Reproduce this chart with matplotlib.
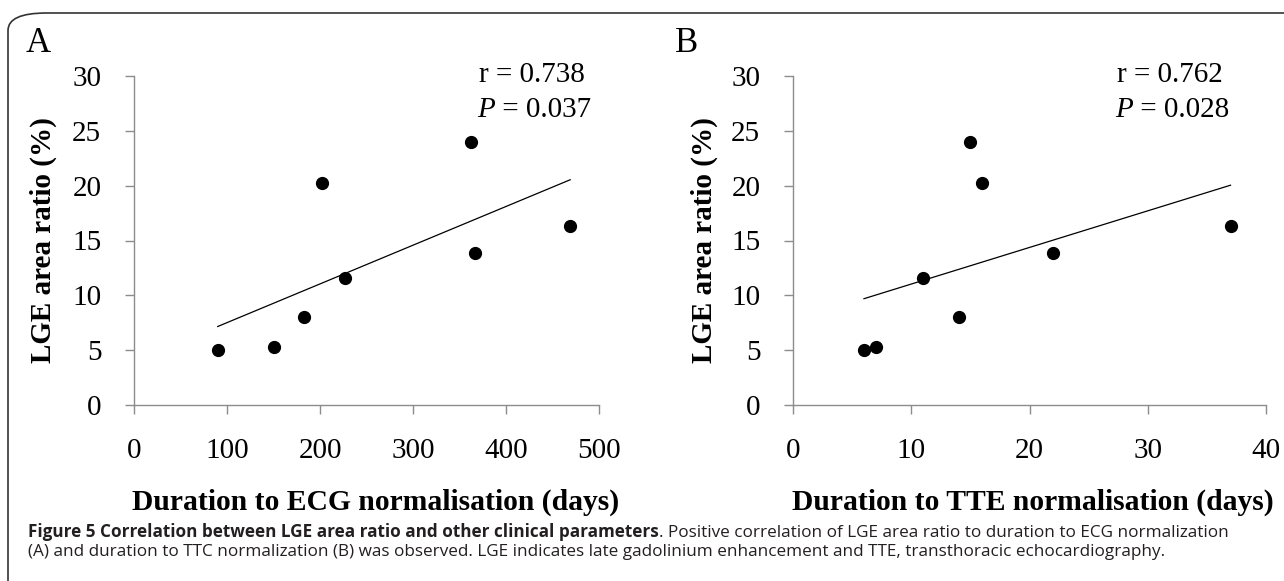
import numpy as np
import matplotlib
matplotlib.use('Agg')
import matplotlib.pyplot as plt
from matplotlib.patches import FancyBboxPatch

# values
ecg_days = [90, 151, 183, 202, 227, 362, 367, 469]
tte_days = [6, 7, 14, 16, 11, 15, 22, 37]
lge_ratio = [5.0, 5.3, 8.0, 20.2, 11.6, 24.0, 13.85, 16.3]

r_text = ['r = 0.738', 'r = 0.762']
p_vals = ['0.037', '0.028']
x_labels = ['Duration to ECG normalisation (days)', 'Duration to TTE normalisation (days)']
panel_letters = ['A', 'B']
x_ticks = [[0, 100, 200, 300, 400, 500], [0, 10, 20, 30, 40]]
y_ticks = [0, 5, 10, 15, 20, 25, 30]

serif = 'Liberation Serif'
W, H = 1284, 581
fig = plt.figure(figsize=(12.84, 5.81), dpi=100)

# rounded frame around the figure
frame = FancyBboxPatch((8 / W, -0.2), 1.2, 0.2 + (1 - 13 / H),
                       boxstyle='round,pad=0,rounding_size=0.03',
                       transform=fig.transFigure, fill=False,
                       edgecolor='#333333', linewidth=1.2)
fig.patches.append(frame)

ax1 = fig.add_axes([134 / W, 1 - 405 / H, 465 / W, 329 / H])
ax2 = fig.add_axes([793 / W, 1 - 405 / H, 473 / W, 329 / H])
axes = [ax1, ax2]
xdata = [ecg_days, tte_days]
ylab_x = [-0.195, -0.188]
xlab_x = [0.52, 0.507]
txt_x = [0.742, 0.685]
letter_x = [26 / W, 675 / W]

for i, ax in enumerate(axes):
    x = np.array(xdata[i], dtype=float)
    y = np.array(lge_ratio)
    ax.plot(x, y, 'o', color='black', ms=8.5, zorder=3)
    # least squares trendline like excel
    k, b = np.polyfit(x, y, 1)
    xs = np.array([x.min(), x.max()])
    ax.plot(xs, k * xs + b, color='black', lw=0.9)

    ax.set_xlim(x_ticks[i][0], x_ticks[i][-1])
    ax.set_ylim(0, 30)
    ax.set_xticks(x_ticks[i])
    ax.set_yticks(y_ticks)
    for s in ['top', 'right']:
        ax.spines[s].set_visible(False)
    for s in ['left', 'bottom']:
        ax.spines[s].set_color('#8c8c8c')
        ax.spines[s].set_linewidth(1.0)
    ax.tick_params(axis='both', direction='out', length=6.5, width=1.0,
                   color='#8c8c8c', labelsize=21)
    ax.tick_params(axis='y', pad=17)
    ax.tick_params(axis='x', pad=17.5)
    for lab in ax.get_xticklabels() + ax.get_yticklabels():
        lab.set_family(serif)

    ax.set_ylabel('LGE area ratio (%)', family=serif, fontsize=21, fontweight='bold')
    ax.yaxis.set_label_coords(ylab_x[i], 0.5)
    ax.yaxis.label.set_va('center')
    ax.set_xlabel(x_labels[i], family=serif, fontsize=21.3, fontweight='bold')
    ax.xaxis.set_label_coords(xlab_x[i], -0.295)
    ax.xaxis.label.set_va('center')

    ax.text(txt_x[i], 1.003, r_text[i], transform=ax.transAxes,
            family=serif, fontsize=21, va='center', ha='left')
    p = ax.text(txt_x[i] - 0.003, 0.897, 'P', transform=ax.transAxes,
                family=serif, style='italic', fontsize=21, va='center', ha='left')
    ax.annotate(' = ' + p_vals[i], xy=(1, 0), xycoords=p, va='bottom', ha='left',
                family=serif, fontsize=21, annotation_clip=False)

    fig.text(letter_x[i], 1 - 43 / H, panel_letters[i], family=serif,
             fontsize=25, va='center', ha='left')

# caption, bold head followed by normal text
cap_font = 'Open Sans'
cap_size = 12.3
y1 = 1 - 537 / H
y2 = 1 - 556 / H
head = fig.text(28 / W, y1, 'Figure 5 Correlation between LGE area ratio and other clinical parameters',
                family=cap_font, fontsize=cap_size, fontweight='bold', va='baseline', color='#231f20')
fig.canvas.draw()
bb = head.get_window_extent()
fig.text(bb.x1 / W, y1, '. Positive correlation of LGE area ratio to duration to ECG normalization',
         family=cap_font, fontsize=cap_size, va='baseline', color='#231f20')
fig.text(28 / W, y2, '(A) and duration to TTC normalization (B) was observed. LGE indicates late gadolinium '
         'enhancement and TTE, transthoracic echocardiography.',
         family=cap_font, fontsize=cap_size, va='baseline', color='#231f20')

fig.savefig('out.png', dpi=100)
